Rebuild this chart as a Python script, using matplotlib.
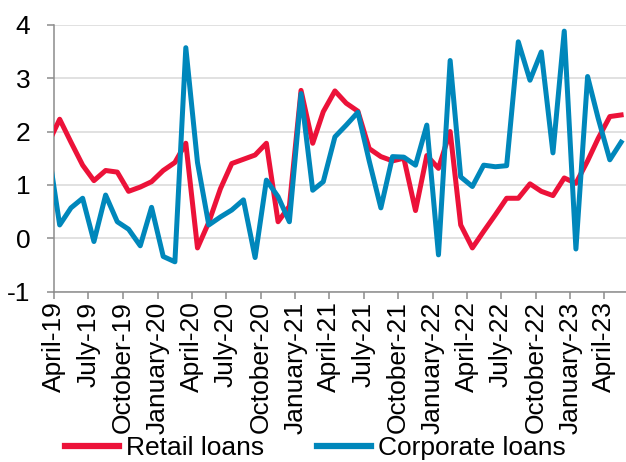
import numpy as np
import pandas as pd
import matplotlib
matplotlib.use('Agg')
import matplotlib.pyplot as plt
import matplotlib.dates as mdates

plt.rcParams['font.family'] = ['Liberation Sans', 'DejaVu Sans']
plt.rcParams['axes.unicode_minus'] = False

# monthly growth, March 2019 .. May 2023
start_month = '2019-03-01'
end_month = '2023-05-01'
retail = [1.77, 2.23, 1.80, 1.37, 1.08, 1.27, 1.24, 0.88, 0.96, 1.06, 1.27, 1.42,
          1.78, -0.18, 0.30, 0.93, 1.40, 1.48, 1.56, 1.78, 0.31, 0.60, 2.77, 1.78,
          2.37, 2.76, 2.53, 2.38, 1.68, 1.53, 1.45, 1.50, 0.52, 1.55, 1.31, 2.00,
          0.25, -0.18, 0.13, 0.44, 0.75, 0.75, 1.02, 0.88, 0.80, 1.13, 1.03, 1.45,
          1.87, 2.28, 2.31]
corporate = [1.70, 0.25, 0.57, 0.75, -0.06, 0.81, 0.31, 0.17, -0.14, 0.58, -0.34, -0.44,
             3.57, 1.42, 0.25, 0.40, 0.53, 0.72, -0.36, 1.09, 0.78, 0.31, 2.71, 0.90,
             1.06, 1.90, 2.12, 2.36, 1.45, 0.57, 1.53, 1.52, 1.37, 2.12, -0.31, 3.33,
             1.15, 0.97, 1.37, 1.34, 1.36, 3.68, 2.96, 3.49, 1.60, 3.88, -0.20, 3.03,
             2.25, 1.47, 1.80]
yticks = [-1, 0, 1, 2, 3, 4]

months = pd.date_range(start_month, end_month, freq='MS')
x = months + pd.Timedelta(days=15)

red = '#EC1239'
blue = '#0087BB'
axis_grey = '#8C8C8C'

fig = plt.figure(figsize=(6.26, 4.62), dpi=100)
ax = fig.add_axes([0.0863, 0.3686, 0.9137, 0.5779])

ax.plot(x, retail, color=red, lw=3.6, solid_joinstyle='round', label='Retail loans', zorder=3)
ax.plot(x, corporate, color=blue, lw=3.6, solid_joinstyle='round', label='Corporate loans', zorder=4)

ax.set_ylim(-1, 4)
ax.set_yticks(yticks)
ax.set_xlim(pd.Timestamp('2019-04-01'), pd.Timestamp('2023-05-29'))
ax.xaxis.set_major_locator(mdates.MonthLocator(bymonth=[1, 4, 7, 10]))
ax.xaxis.set_major_formatter(mdates.DateFormatter('%B-%y'))

ax.grid(axis='y', color='#D9D9D9', lw=1.1, zorder=0)
ax.set_axisbelow(True)
for side in ['top', 'right']:
    ax.spines[side].set_visible(False)
for side in ['left', 'bottom']:
    ax.spines[side].set_color(axis_grey)
    ax.spines[side].set_linewidth(1.1)

ax.tick_params(axis='y', length=5, width=1.1, color=axis_grey, pad=12, labelsize=19)
ax.tick_params(axis='x', length=5, width=1.1, color=axis_grey, pad=2, labelsize=19)
for lab in ax.get_xticklabels():
    lab.set_rotation(90)
    lab.set_ha('center')

leg = fig.legend(loc='center', bbox_to_anchor=(0.504, 0.03), ncol=2, frameon=False,
                 fontsize=19, handlelength=2.05, handletextpad=0.27, columnspacing=2.0,
                 borderaxespad=0, borderpad=0)
for line in leg.get_lines():
    line.set_linewidth(4.5)

fig.savefig('out.png', dpi=100)
